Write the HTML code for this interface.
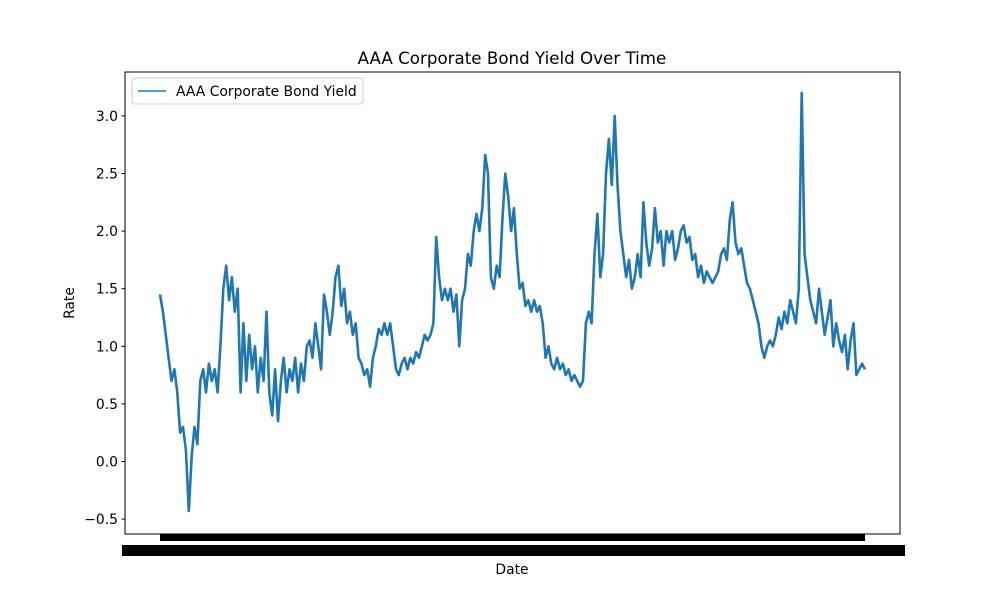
<!DOCTYPE html>
<html><head><meta charset="utf-8"><style>
body{margin:0;background:#fff;}
svg text{font-family:"DejaVu Sans","Liberation Sans",sans-serif;fill:#000;}
</style></head><body>
<svg id="chart" width="1000" height="600" viewBox="0 0 1000 600" xmlns="http://www.w3.org/2000/svg">
<rect x="0" y="0" width="1000" height="600" fill="#fff"/>
<text x="512" y="64" font-size="16.7" text-anchor="middle">AAA Corporate Bond Yield Over Time</text>
<g id="yaxis"></g>
<g id="series"></g>
<rect x="160" y="534" width="705" height="7" fill="#000"/>
<rect x="122" y="545" width="783" height="11" fill="#000"/>
<rect x="125" y="72" width="775" height="462" fill="none" stroke="#000" stroke-width="1"/>
<text x="512" y="574" font-size="13.9" text-anchor="middle">Date</text>
<text transform="translate(74,303) rotate(-90)" font-size="13.9" text-anchor="middle">Rate</text>
<g>
<rect x="132" y="78" width="231" height="26" rx="3" fill="#fff" stroke="#ccc"/>
<line x1="138" y1="91" x2="166" y2="91" stroke="#1f77b4" stroke-width="1.5"/>
<text x="176" y="96" font-size="13.9">AAA Corporate Bond Yield</text>
</g>
</svg>
<script>
const yTicks=[-0.5,0.0,0.5,1.0,1.5,2.0,2.5,3.0];
const yTickLabels=["−0.5","0.0","0.5","1.0","1.5","2.0","2.5","3.0"];
const rates=[1.45,1.3,1.1,0.9,0.7,0.8,0.6,0.25,0.3,0.1,-0.43,0.05,0.3,0.15,0.7,0.8,0.6,0.85,0.7,0.8,0.6,1.0,1.5,1.7,1.4,1.6,1.3,1.5,0.6,1.2,0.7,1.1,0.8,1.0,0.6,0.9,0.7,1.3,0.6,0.4,0.8,0.35,0.7,0.9,0.6,0.8,0.7,0.9,0.6,0.85,0.7,1.0,1.05,0.9,1.2,1.0,0.8,1.45,1.3,1.1,1.3,1.6,1.7,1.35,1.5,1.2,1.3,1.1,1.2,0.9,0.85,0.75,0.8,0.65,0.9,1.0,1.15,1.1,1.2,1.1,1.2,1.0,0.8,0.75,0.85,0.9,0.8,0.9,0.85,0.95,0.9,1.0,1.1,1.05,1.1,1.2,1.95,1.6,1.4,1.5,1.4,1.5,1.3,1.45,1.0,1.4,1.5,1.8,1.7,2.0,2.15,2.0,2.2,2.66,2.5,1.6,1.5,1.7,1.6,2.1,2.5,2.3,2.0,2.2,1.8,1.5,1.55,1.35,1.4,1.3,1.4,1.3,1.35,1.2,0.9,1.0,0.85,0.8,0.9,0.8,0.85,0.75,0.8,0.7,0.75,0.7,0.65,0.7,1.2,1.3,1.2,1.8,2.15,1.6,1.8,2.5,2.8,2.4,3.0,2.4,2.0,1.8,1.6,1.75,1.5,1.6,1.8,1.6,2.25,1.9,1.7,1.85,2.2,1.9,2.0,1.7,2.0,1.9,2.0,1.75,1.85,2.0,2.05,1.9,1.95,1.75,1.8,1.6,1.7,1.55,1.65,1.6,1.55,1.6,1.65,1.8,1.85,1.75,2.1,2.25,1.9,1.8,1.85,1.7,1.55,1.5,1.4,1.3,1.2,1.0,0.9,1.0,1.05,1.0,1.1,1.25,1.15,1.3,1.2,1.4,1.3,1.2,1.5,3.2,1.8,1.6,1.4,1.3,1.2,1.5,1.3,1.1,1.25,1.4,1.0,1.2,1.05,0.95,1.1,0.8,1.05,1.2,0.75,0.8,0.85,0.8];
const NS="http://www.w3.org/2000/svg";
function yScale(v){return 461.5-v*115.2;}
function xScale(i){return 160+i*(705/(rates.length-1));}
const ya=document.getElementById('yaxis');
yTicks.forEach((t,k)=>{
  const y=yScale(t);
  const l=document.createElementNS(NS,'line');
  l.setAttribute('x1',121.5);l.setAttribute('x2',125);l.setAttribute('y1',y);l.setAttribute('y2',y);l.setAttribute('stroke','#000');
  
  
  ya.appendChild(l);
  const tx=document.createElementNS(NS,'text');
  tx.setAttribute('x',118);tx.setAttribute('y',y+5);tx.setAttribute('font-size','13.9');tx.setAttribute('text-anchor','end');
  tx.textContent=yTickLabels[k];
  
  
  ya.appendChild(tx);
});
const p=document.createElementNS(NS,'path');
p.setAttribute('d',rates.map((v,i)=>(i?'L':'M')+xScale(i).toFixed(1)+','+yScale(v).toFixed(1)).join(''));
p.setAttribute('fill','none');p.setAttribute('stroke','#1f77b4');p.setAttribute('stroke-width','2.6');p.setAttribute('stroke-linejoin','round');


document.getElementById('series').appendChild(p);
</script>
</body></html>
